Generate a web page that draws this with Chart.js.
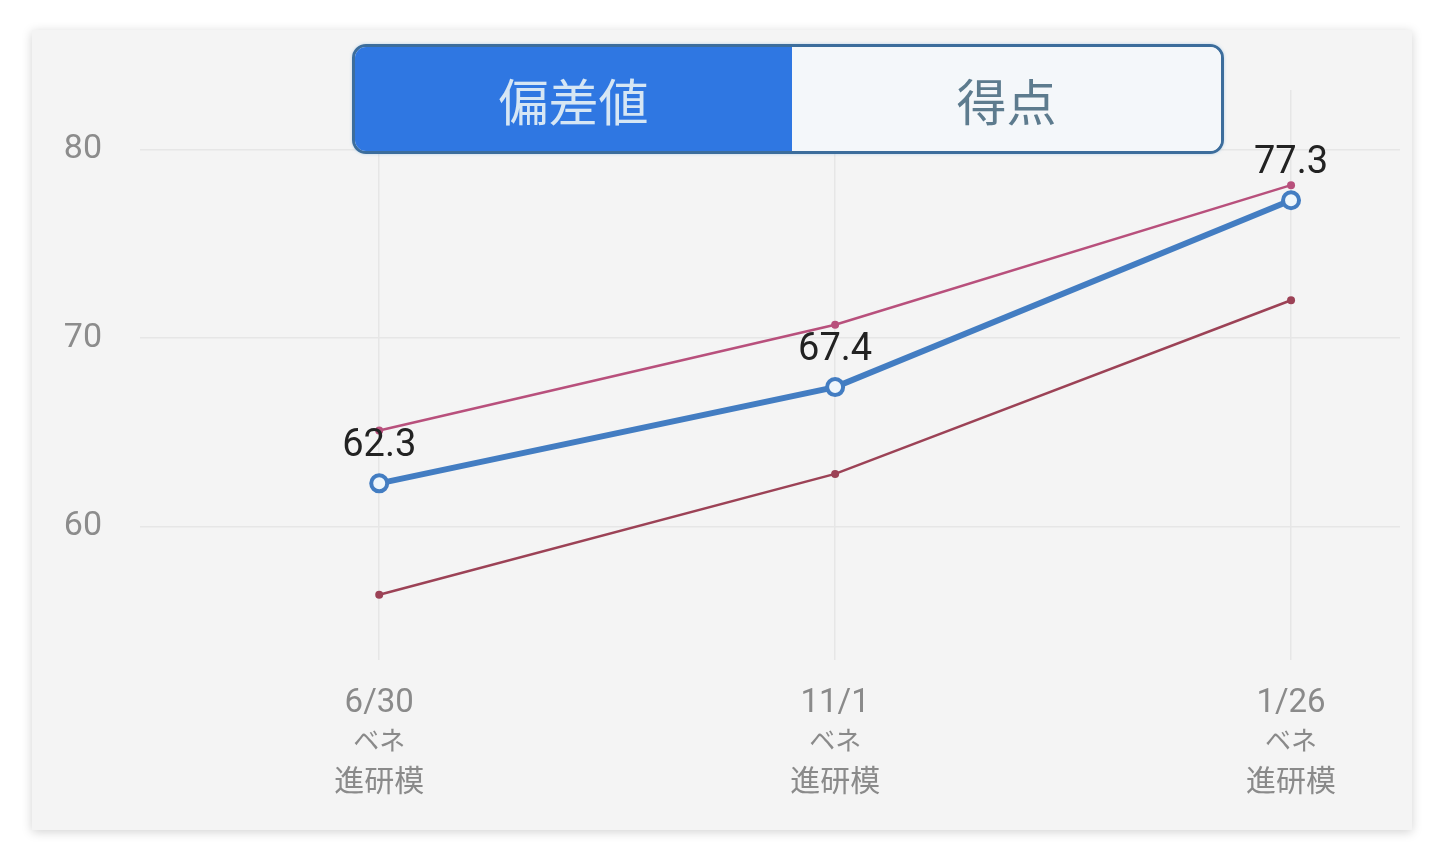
<!DOCTYPE html>
<html lang="ja">
<head>
<meta charset="utf-8">
<script src="https://cdn.jsdelivr.net/npm/chart.js@4"></script>
<style>
  body { margin: 0; background: #fff; width: 1442px; height: 862px; overflow: hidden; font-family: Roboto, "Noto Sans CJK JP", sans-serif; }
  #card { position: absolute; left: 32px; top: 30px; width: 1380px; height: 800px; background: #f4f4f4; box-shadow: 0 2px 10px rgba(0,0,0,0.18); }
  #card canvas { position: absolute; left: 0; top: 0; }
  #toggle { position: absolute; left: 352px; top: 44px; width: 866px; height: 104px; border: 3px solid #3c6d9c; border-radius: 14px; overflow: hidden; display: flex; box-shadow: 0 0 3px rgba(120,180,230,0.5); }
  #toggle div { display: flex; align-items: center; justify-content: center; font-family: "Noto Sans CJK JP", sans-serif; font-size: 50px; }
  #toggle .on { width: 437px; background: #2f77e2; color: #d6e6f4; }
  #toggle .off { flex: 1; background: #f4f7fa; color: #5d7b8e; }
</style>
</head>
<body>
<div id="card"><canvas id="chart" width="1380" height="800"></canvas></div>
<div id="toggle"><div class="on">偏差値</div><div class="off">得点</div></div>
<script>
// tests
const dates = ["6/30", "11/1", "1/26"];
const examName = ["ベネ", "進研模"];
const yTicks = [60, 70, 80];

// series
const myScore = [62.3, 67.4, 77.3];
const upperLine = [65.1, 70.7, 78.1];
const lowerLine = [56.4, 62.8, 72.0];

const toPoints = arr => arr.map((v, i) => ({ x: i, y: v }));

// draw the value above each blue point
const valueLabels = {
  id: "valueLabels",
  afterDatasetsDraw(chart) {
    const ctx = chart.ctx;
    const meta = chart.getDatasetMeta(2);
    ctx.save();
    ctx.font = "38px Roboto, sans-serif";
    ctx.fillStyle = "#222";
    ctx.textAlign = "center";
    ctx.textBaseline = "middle";
    meta.data.forEach((pt, i) => {
      ctx.fillText(myScore[i].toFixed(1), pt.x, pt.y - 37);
    });
    ctx.restore();
  }
};

// x labels in three lines with their own sizes
const dateLabels = {
  id: "dateLabels",
  afterDraw(chart) {
    const ctx = chart.ctx;
    const xs = chart.scales.x;
    const lines = [
      { size: 33, y: 674 },
      { size: 26, y: 713 },
      { size: 30, y: 753 }
    ];
    ctx.save();
    ctx.fillStyle = "#8a8a8a";
    ctx.textAlign = "center";
    ctx.textBaseline = "middle";
    dates.forEach((d, i) => {
      const x = xs.getPixelForValue(i);
      [d].concat(examName).forEach((txt, j) => {
        ctx.font = lines[j].size + "px Roboto, 'Noto Sans CJK JP', sans-serif";
        ctx.fillText(txt, x, lines[j].y);
      });
    });
    ctx.restore();
  }
};

new Chart(document.getElementById("chart"), {
  type: "line",
  data: {
    datasets: [
      {
        data: toPoints(upperLine),
        borderColor: "#b8507c",
        backgroundColor: "#b8507c",
        borderWidth: 2.5,
        pointRadius: 4,
        pointBorderWidth: 0
      },
      {
        data: toPoints(lowerLine),
        borderColor: "#9c4256",
        backgroundColor: "#9c4256",
        borderWidth: 2.5,
        pointRadius: 4,
        pointBorderWidth: 0
      },
      {
        data: toPoints(myScore),
        borderColor: "#437dc2",
        backgroundColor: "#eef6fc",
        borderWidth: 6,
        pointRadius: 8,
        pointBorderWidth: 4
      }
    ]
  },
  options: {
    responsive: false,
    animation: false,
    events: [],
    layout: { padding: { top: 60, right: 0, left: 0, bottom: 0 } },
    plugins: { legend: { display: false }, tooltip: { enabled: false } },
    scales: {
      x: {
        type: "linear",
        min: -0.5247,
        max: 2.239,
        afterBuildTicks: s => { s.ticks = dates.map((d, i) => ({ value: i })); },
        afterFit: s => { s.height = 170; s.paddingLeft = 0; s.paddingRight = 0; },
        border: { display: false },
        grid: { color: "#e6e6e6", lineWidth: 1.5, drawTicks: false },
        ticks: { display: false }
      },
      y: {
        min: 52.94,
        max: 83.14,
        afterBuildTicks: s => { s.ticks = yTicks.map(v => ({ value: v })); },
        afterFit: s => { s.width = 108; },
        border: { display: false },
        grid: { color: "#e6e6e6", lineWidth: 1.5, drawTicks: false },
        ticks: {
          padding: 38,
          color: "#8c8c8c",
          font: { size: 34, family: "Roboto, sans-serif" }
        }
      }
    }
  },
  plugins: [valueLabels, dateLabels]
});
</script>
</body>
</html>
